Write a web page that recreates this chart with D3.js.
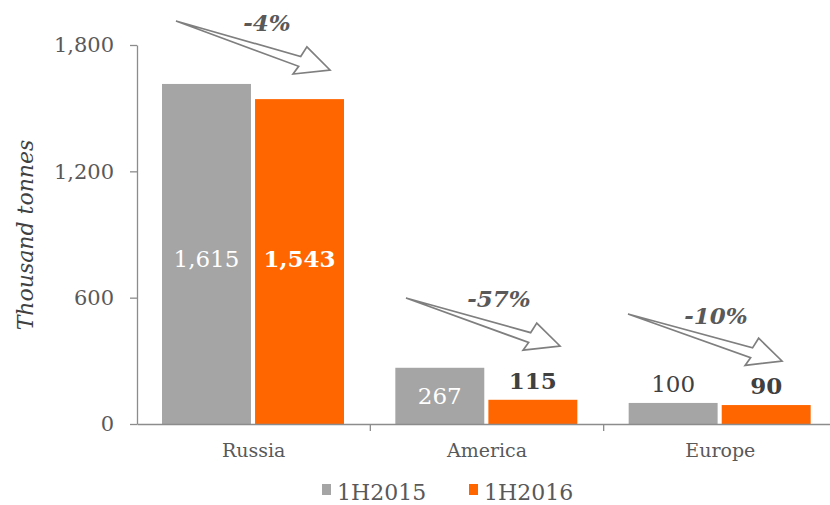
<!DOCTYPE html>
<html><head><meta charset="utf-8">
<script src="https://cdn.jsdelivr.net/npm/d3@7"></script>
<style>body{margin:0;background:#fff}svg{display:block}</style>
</head><body>
<svg id="c" width="830" height="505"></svg>
<script>
const categories = ["Russia", "America", "Europe"];
const seriesNames = ["1H2015", "1H2016"];
const values2015 = [1615, 267, 100];
const values2016 = [1543, 115, 90];
const changes = ["-4%", "-57%", "-10%"];
const yTicks = [0, 600, 1200, 1800];
const colors = ["#a5a5a5", "#ff6600"];

const svg = d3.select("#c");
const font = "DejaVu Serif, Georgia, serif";
const m = {left: 137, right: 837, top: 45, bottom: 424};
const x = d3.scaleBand().domain(categories).range([m.left, m.right]).paddingInner(0).paddingOuter(0);
const xs = d3.scaleBand().domain(seriesNames).range([25, 207]).paddingInner(0.044).paddingOuter(0);
const y = d3.scaleLinear().domain([0, 1800]).range([m.bottom, m.top]);

// y axis
const ya = svg.append("g").attr("transform", `translate(${m.left},0)`)
  .call(d3.axisLeft(y).tickValues(yTicks).tickFormat(d3.format(",")).tickSize(7).tickPadding(16).tickSizeOuter(0));
ya.select(".domain").attr("stroke", "#8c8c8c").attr("stroke-width", 1.3);
ya.selectAll(".tick line").attr("stroke", "#8c8c8c").attr("stroke-width", 1.3);
ya.selectAll("text").attr("font-family", font).attr("font-size", 21).attr("fill", "#595959");

// bars
const data = categories.map((c, i) => ({c, i, v: [values2015[i], values2016[i]]}));
const g = svg.append("g");
data.forEach(d => {
  seriesNames.forEach((s, k) => {
    g.append("rect")
      .attr("x", x(d.c) + xs(s)).attr("width", xs.bandwidth())
      .attr("y", y(d.v[k])).attr("height", y(0) - y(d.v[k]))
      .attr("fill", colors[k]);
  });
});

// x axis
const xa = svg.append("g").attr("transform", `translate(0,${m.bottom})`)
  .call(d3.axisBottom(x).tickSize(0).tickPadding(20).tickSizeOuter(0));
xa.select(".domain").attr("stroke", "#8c8c8c").attr("stroke-width", 1.3);
xa.selectAll("text").attr("font-family", font).attr("font-size", 19).attr("fill", "#595959");
categories.slice(1).forEach(c => {
  svg.append("line").attr("x1", x(c)).attr("x2", x(c)).attr("y1", m.bottom).attr("y2", m.bottom + 7)
    .attr("stroke", "#8c8c8c").attr("stroke-width", 1.3);
});

// value labels
const fmt = d3.format(",");
data.forEach(d => {
  seriesNames.forEach((s, k) => {
    const v = d.v[k];
    const cx = x(d.c) + xs(s) + xs.bandwidth() / 2;
    const inside = y(0) - y(v) > 40;
    let ty, fill;
    if (d.i === 0) { ty = 267; fill = "#fff"; }
    else if (inside) { ty = (y(v) + y(0)) / 2 + 8; fill = "#fff"; }
    else { ty = y(v) - 11; fill = "#404040"; }
    svg.append("text").attr("x", cx).attr("y", ty).attr("text-anchor", "middle")
      .attr("font-family", font).attr("font-size", 23)
      .attr("font-weight", k === 1 ? "bold" : "normal")
      .attr("fill", fill).text(fmt(v));
  });
});

// arrows
function arrow(x0, y0, x1, y1) {
  const L = Math.hypot(x1 - x0, y1 - y0);
  const ang = Math.atan2(y1 - y0, x1 - x0) * 180 / Math.PI;
  const H = 32, w = 4, hw = 15;
  const p = d3.path();
  p.moveTo(0, 0);
  p.lineTo(L - H, -w);
  p.lineTo(L - H + 3, -hw);
  p.lineTo(L, 0);
  p.lineTo(L - H - 2, hw);
  p.lineTo(L - H + 1, w + 2);
  p.closePath();
  svg.append("path").attr("d", p.toString())
    .attr("transform", `translate(${x0},${y0}) rotate(${ang})`)
    .attr("fill", "#fff").attr("stroke", "#7f7f7f").attr("stroke-width", 1.7)
    .attr("stroke-linejoin", "miter");
}
const arrowPos = [[176, 21, 330, 70], [406, 298, 560, 346], [628, 314, 782, 361]];
const changePos = [[267, 31], [499, 307], [716, 324]];
arrowPos.forEach(a => arrow(...a));
changes.forEach((t, i) => {
  svg.append("text").attr("x", changePos[i][0]).attr("y", changePos[i][1]).attr("text-anchor", "middle")
    .attr("font-family", font).attr("font-size", 23).attr("font-weight", "bold").attr("font-style", "italic")
    .attr("fill", "#595959").text(t);
});

// y label
svg.append("text").attr("transform", "translate(33,235) rotate(-90)").attr("text-anchor", "middle")
  .attr("font-family", font).attr("font-size", 22).attr("font-style", "italic").attr("fill", "#404040")
  .text("Thousand tonnes");

// legend
const legX = [322, 469];
seriesNames.forEach((s, k) => {
  svg.append("rect").attr("x", legX[k]).attr("y", 484).attr("width", 9).attr("height", 11).attr("fill", colors[k]);
  svg.append("text").attr("x", legX[k] + 15).attr("y", 500).attr("font-family", font).attr("font-size", 22)
    .attr("fill", "#595959").text(s);
});
</script>
</body></html>
